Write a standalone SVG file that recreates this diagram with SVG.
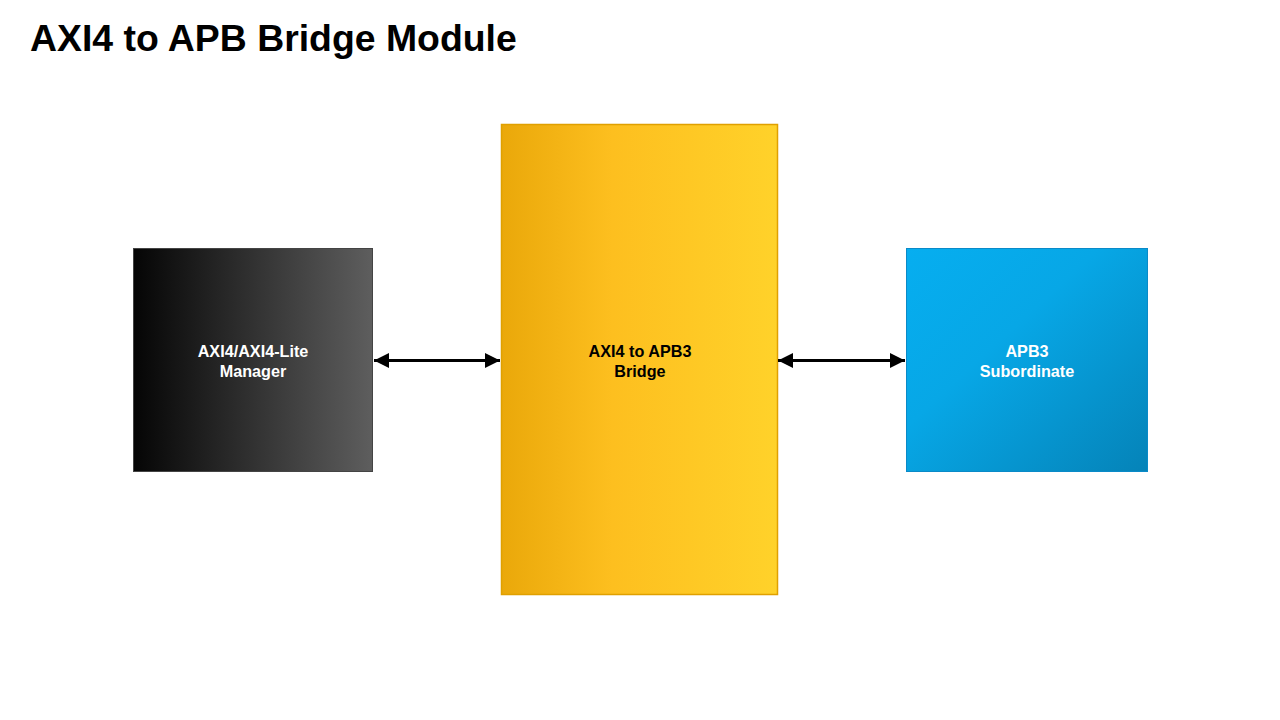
<svg xmlns="http://www.w3.org/2000/svg" width="1280" height="720" viewBox="0 0 1280 720">
<defs>
<linearGradient id="gMgr" x1="0" y1="0" x2="1" y2="0"><stop offset="0" stop-color="#050505"/><stop offset="1" stop-color="#5e5e5e"/></linearGradient>
<linearGradient id="gBr" x1="0" y1="0" x2="1" y2="0"><stop offset="0" stop-color="#eaa80a"/><stop offset="0.4" stop-color="#fdbf1f"/><stop offset="1" stop-color="#ffd22a"/></linearGradient>
<linearGradient id="gSub" x1="0" y1="0" x2="1" y2="1"><stop offset="0" stop-color="#06aef0"/><stop offset="0.4" stop-color="#07a7e6"/><stop offset="1" stop-color="#0583b8"/></linearGradient>
<marker id="ah" viewBox="0 0 10 10" refX="10" refY="5" markerWidth="5" markerHeight="5" orient="auto-start-reverse" markerUnits="strokeWidth"><path d="M0,0 L10,5 L0,10 z" fill="#000"/></marker>
</defs>
<style>
.lbl{font-family:"Liberation Sans",Arial,sans-serif;font-weight:bold;font-size:16.2px;text-anchor:middle}
.conn{stroke:#000;stroke-width:3;fill:none;marker-start:url(#ah);marker-end:url(#ah)}
</style>
<rect width="1280" height="720" fill="#fff"/>
<text x="30" y="51" font-family="Liberation Sans, Arial, sans-serif" font-weight="bold" font-size="37.4" fill="#000">AXI4 to APB Bridge Module</text>
<g id="manager">
<rect x="133.5" y="248.5" width="239" height="223" fill="url(#gMgr)" stroke="#444" stroke-width="1"/>
<text class="lbl" fill="#fff" x="253" y="357">AXI4/AXI4-Lite</text>
<text class="lbl" fill="#fff" x="253" y="377">Manager</text>
</g>
<g id="bridge">
<rect x="501.5" y="124.5" width="276" height="470" fill="url(#gBr)" stroke="#e0a000" stroke-width="1.5"/>
<text class="lbl" fill="#000" x="640" y="357">AXI4 to APB3</text>
<text class="lbl" fill="#000" x="640" y="377">Bridge</text>
</g>
<g id="subordinate">
<rect x="906.5" y="248.5" width="241" height="223" fill="url(#gSub)" stroke="#0a8ac8" stroke-width="1"/>
<text class="lbl" fill="#fff" x="1027" y="357">APB3</text>
<text class="lbl" fill="#fff" x="1027" y="377">Subordinate</text>
</g>
<g id="connectors">
<line class="conn" x1="374" y1="360.5" x2="500" y2="360.5"/>
<line class="conn" x1="778" y1="360.5" x2="905" y2="360.5"/>
</g>
</svg>
